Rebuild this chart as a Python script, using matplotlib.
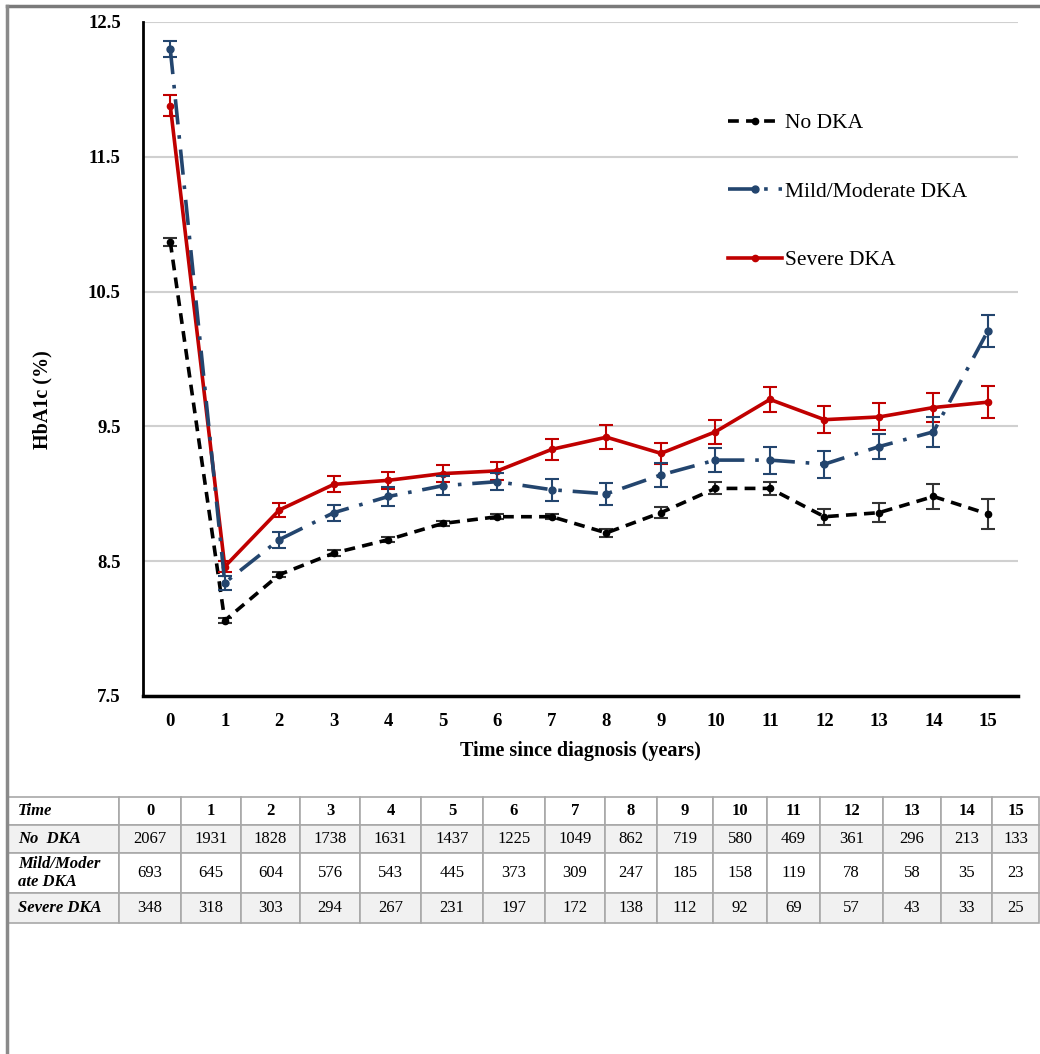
import matplotlib
matplotlib.use("Agg")
import matplotlib.pyplot as plt
from matplotlib.lines import Line2D

plt.rcParams['font.family'] = ['Liberation Serif', 'DejaVu Serif']

# data
years = list(range(16))
no_dka = [10.87, 8.06, 8.40, 8.56, 8.66, 8.78, 8.83, 8.83, 8.71, 8.86, 9.04, 9.04, 8.83, 8.86, 8.98, 8.85]
mild = [12.30, 8.34, 8.66, 8.86, 8.98, 9.06, 9.09, 9.03, 9.00, 9.14, 9.25, 9.25, 9.22, 9.35, 9.46, 10.21]
severe = [11.88, 8.46, 8.88, 9.07, 9.10, 9.15, 9.17, 9.33, 9.42, 9.30, 9.46, 9.70, 9.55, 9.57, 9.64, 9.68]

no_err = [0.03, 0.02, 0.02, 0.02, 0.02, 0.02, 0.02, 0.02, 0.03, 0.04, 0.045, 0.05, 0.06, 0.07, 0.09, 0.11]
mild_err = [0.06, 0.05, 0.06, 0.06, 0.07, 0.07, 0.065, 0.08, 0.08, 0.09, 0.09, 0.10, 0.10, 0.09, 0.11, 0.12]
sev_err = [0.08, 0.04, 0.055, 0.06, 0.065, 0.06, 0.065, 0.08, 0.09, 0.08, 0.09, 0.09, 0.10, 0.10, 0.11, 0.12]

yticks = [7.5, 8.5, 9.5, 10.5, 11.5, 12.5]

# table of numbers at risk
row_labels = ["No  DKA", "Mild/Moder\nate DKA", "Severe DKA"]
n_no = [2067, 1931, 1828, 1738, 1631, 1437, 1225, 1049, 862, 719, 580, 469, 361, 296, 213, 133]
n_mild = [693, 645, 604, 576, 543, 445, 373, 309, 247, 185, 158, 119, 78, 58, 35, 23]
n_sev = [348, 318, 303, 294, 267, 231, 197, 172, 138, 112, 92, 69, 57, 43, 33, 25]

c_no = "#000000"
c_mild = "#23456e"
c_sev = "#c00000"
ls_no = (0, (3, 2))
ls_mild = (0, (7, 3, 1, 3))

W, H = 1040, 1054
fig = plt.figure(figsize=(W / 100, H / 100), dpi=100)

ax = fig.add_axes([143 / W, 1 - 696 / H, (1018 - 143) / W, (696 - 22) / H])

ax.errorbar(years, no_dka, yerr=no_err, color=c_no, ecolor="#333333", lw=2.6,
            ls=ls_no, marker="o", ms=4.5, capsize=5, elinewidth=1.5, capthick=1.5, zorder=3)
ax.errorbar(years, severe, yerr=sev_err, color=c_sev, ecolor=c_sev, lw=2.6,
            ls="-", marker="o", ms=4.5, capsize=5, elinewidth=1.5, capthick=1.5, zorder=4)
ax.errorbar(years, mild, yerr=mild_err, color=c_mild, ecolor=c_mild, lw=2.6,
            ls=ls_mild, marker="o", ms=5, capsize=5, elinewidth=1.5, capthick=1.5, zorder=5)

ax.set_xlim(-0.5, 15.55)
ax.set_ylim(7.5, 12.5)
ax.set_yticks(yticks)
ax.set_yticklabels([f"{v:.1f}" for v in yticks])
ax.set_xticks(years)
ax.grid(axis="y", color="#d0d0d0", lw=1.5)
ax.set_axisbelow(True)
for s in ["top", "right"]:
    ax.spines[s].set_visible(False)
ax.spines["left"].set_linewidth(2)
ax.spines["bottom"].set_linewidth(2.5)
ax.tick_params(length=0, labelsize=13.5)
ax.tick_params(axis="y", pad=16)
ax.tick_params(axis="x", pad=12)
for lab in ax.get_xticklabels() + ax.get_yticklabels():
    lab.set_fontweight("bold")
ax.set_xlabel("Time since diagnosis (years)", fontsize=14.5, fontweight="bold", labelpad=8)
ax.set_ylabel("HbA1c (%)", fontsize=14.5, fontweight="bold")
ax.yaxis.set_label_coords(-0.104, 0.44)

handles = [Line2D([], [], color=c_no, lw=2.6, ls=ls_no, marker="o", ms=4.5),
           Line2D([], [], color=c_mild, lw=2.6, ls=ls_mild, marker="o", ms=5),
           Line2D([], [], color=c_sev, lw=2.6, ls="-", marker="o", ms=4.5)]
ax.legend(handles, ["No DKA", "Mild/Moderate DKA", "Severe DKA"], loc="upper left",
          bbox_to_anchor=(709 / W, 1 - 94 / H), bbox_transform=fig.transFigure,
          frameon=False, fontsize=15.5, handlelength=2.5, handletextpad=0.15,
          labelspacing=2.25)

# table
tax = fig.add_axes([8 / W, 1 - 923 / H, (1039 - 8) / W, (923 - 797) / H])
tax.axis("off")
cells = [["Time"] + [str(y) for y in years],
         [row_labels[0]] + [str(v) for v in n_no],
         [row_labels[1]] + [str(v) for v in n_mild],
         [row_labels[2]] + [str(v) for v in n_sev]]
bounds = [8, 119, 181, 241, 300, 360, 421, 483, 545, 605, 657, 713, 767, 820, 883, 941, 992, 1039]
widths = [(bounds[i + 1] - bounds[i]) / (1039 - 8) for i in range(len(bounds) - 1)]
tbl = tax.table(cellText=cells, colWidths=widths, cellLoc="center", bbox=[0, 0, 1, 1])
tbl.auto_set_font_size(False)
row_h = [28, 28, 40, 30]
fills = ["white", "#f1f1f1", "white", "#f1f1f1"]
for (r, c), cell in tbl.get_celld().items():
    cell.set_height(row_h[r] / 126)
    cell.set_edgecolor("#a8a8a8")
    cell.set_linewidth(1.2)
    cell.set_facecolor(fills[r])
    txt = cell.get_text()
    txt.set_fontsize(12)
    if c == 0:
        txt.set_fontweight("bold")
        txt.set_fontstyle("italic")
        txt.set_ha("left")
        cell._loc = "left"
        cell.PAD = 0.09
    elif r == 0:
        txt.set_fontweight("bold")

# outer frame lines
fig.add_artist(Line2D([7 / W, 1], [1 - 6 / H, 1 - 6 / H], color="#7a7a7a", lw=2.5))
fig.add_artist(Line2D([7 / W, 7 / W], [0, 1 - 6 / H], color="#8a8a8a", lw=2.5))

fig.savefig("out.png", dpi=100)
